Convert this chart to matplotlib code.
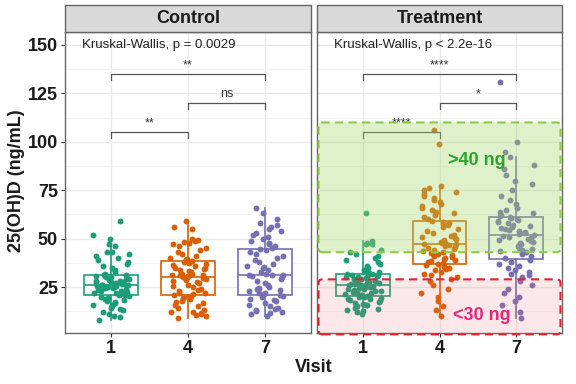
import matplotlib
matplotlib.use("Agg")
import matplotlib.pyplot as plt
import numpy as np
from matplotlib.patches import Rectangle, FancyBboxPatch

plt.rcParams["font.family"] = ["Liberation Sans", "DejaVu Sans"]

# ---------------- data ----------------
visits = ["1", "4", "7"]
groups = ["Control", "Treatment"]
colors = ["#1B9E77", "#D95F02", "#7570B3"]

control_v1 = [8, 9.5, 10, 11, 12, 13, 13.5, 14, 15, 15.5, 16, 17, 17.5, 18, 18.5, 19, 19.5, 20,
              20.5, 21, 21, 21.5, 22, 22, 22.5, 23, 23, 23.5, 24, 24, 24.5, 24.5, 25, 25, 25,
              25.5, 25.5, 26, 26, 26, 26.5, 26.5, 27, 27, 27.5, 27.5, 28, 28, 28.5, 29, 29,
              29.5, 30, 30, 30.5, 31, 31.5, 32, 33, 34, 35, 36, 37, 38, 39, 40, 41, 42, 43, 43,
              46, 47, 50, 52, 59]
control_v4 = [9, 10, 10.5, 11, 11.5, 12, 12, 13, 14, 15, 16, 17, 17.5, 18, 19, 19.5, 20, 20.5,
              21, 21.5, 22, 22, 23, 23.5, 24, 25, 25.5, 26, 27, 27.5, 28, 28.5, 29, 29.5, 30,
              30, 30.5, 31, 31, 31.5, 32, 32, 33, 33.5, 34, 34.5, 35, 35, 36, 36.5, 37, 37.5,
              38, 38.5, 39, 39.5, 40, 41, 42, 43, 44, 45, 46, 47, 48, 48.5, 49, 49.5, 50, 55,
              56, 59]
control_v7 = [10, 11, 11.5, 12, 12.5, 13, 13.5, 14, 15, 16, 17, 18, 18.5, 19, 20, 20.5, 21, 21.5,
              22, 22, 23, 23.5, 24, 24.5, 25, 26, 27, 28, 29, 30, 30.5, 31, 31, 31.5, 32, 33,
              34, 35, 35.5, 36, 37, 38, 39, 40, 41, 42, 43, 44, 44.5, 45, 46, 47, 48, 49, 50,
              51, 52, 53, 54, 55, 56, 57, 58, 60, 63, 66]
treat_v1 = [11, 12, 12.5, 13, 13.5, 14, 15, 15.5, 16, 16.5, 17, 17.5, 18, 18.5, 19, 19, 19.5,
            20, 20, 20.5, 21, 21, 21.5, 22, 22, 22.5, 23, 23, 23.5, 24, 24, 24.5, 25, 25, 25.5,
            25.5, 26, 26, 26, 26.5, 26.5, 27, 27, 27.5, 28, 28, 28.5, 29, 29, 29.5, 30, 30,
            30.5, 31, 31, 31.5, 32, 32, 32.5, 33, 33.5, 34, 35, 36, 37, 38, 39, 40, 41, 42,
            43, 44, 47, 47.5, 48, 49, 63]
treat_v4 = [10, 13, 15, 18, 20, 22, 24, 26, 28, 29, 30, 31, 32, 33, 34, 34.5, 35, 35.5, 36,
            36.5, 37, 37.5, 38, 38.5, 39, 39.5, 40, 40.5, 41, 41.5, 42, 42.5, 43, 43.5, 44,
            44.5, 45, 45.5, 46, 46.5, 47, 47, 47.5, 48, 48.5, 49, 49.5, 50, 50.5, 51, 51.5, 52,
            53, 54, 55, 56, 57, 57.5, 58, 58.5, 59, 60, 61, 62, 63, 64, 65, 66, 67, 68, 69, 70,
            71, 72, 73, 74, 75, 76, 77, 99, 106]
treat_v7 = [9, 12, 16, 18, 20, 22, 24, 26, 28, 30, 31, 32, 33, 34, 35, 36, 37, 38, 39, 40, 41,
            42, 43, 43.5, 44, 44.5, 45, 46, 47, 48, 48.5, 49, 49.5, 50, 50.5, 51, 51.5, 52,
            52.5, 53, 53, 53.5, 54, 54.5, 55, 55.5, 56, 56.5, 57, 58, 58.5, 59, 59.5, 60, 60.5,
            61, 61.5, 62, 63, 64, 65, 66, 68, 70, 72, 75, 78, 80, 83, 86, 88, 92, 95, 100, 131]

data = {"Control": [control_v1, control_v4, control_v7],
        "Treatment": [treat_v1, treat_v4, treat_v7]}

kw_text = {"Control": "Kruskal-Wallis, p = 0.0029",
           "Treatment": "Kruskal-Wallis, p < 2.2e-16"}
# (from, to, y, label)
brackets = {"Control": [(1, 3, 135, "**"), (2, 3, 120, "ns"), (1, 2, 105, "**")],
            "Treatment": [(1, 3, 135, "****"), (2, 3, 120, "*"), (1, 2, 105, "****")]}

yticks = [25, 50, 75, 100, 125, 150]

# ---------------- figure ----------------
fig = plt.figure(figsize=(5.76, 3.84), dpi=100)
W, H = 576, 384
bottom = 51 / H
height = (333 - 32) / H
axes_pos = [(65 / W, (311 - 65) / W), (317 / W, (562 - 317) / W)]
strip_h = 27 / H

grid_c = "#EBEBEB"


def jitter(n, k):
    # deterministic scrambled jitter offsets (position only)
    idx = np.arange(n) + 17 * k
    frac = (np.sin(idx * 12.9898 + 78.233) * 43758.5453) % 1.0
    return (frac - 0.5) * 0.48


for gi, (g, (l, w)) in enumerate(zip(groups, axes_pos)):
    ax = fig.add_axes([l, bottom, w, height])
    ax.set_xlim(0.4, 3.6)
    ax.set_ylim(1.3, 156.7)
    ax.set_yticks(yticks)
    ax.set_yticks([12.5, 37.5, 62.5, 87.5, 112.5, 137.5], minor=True)
    ax.set_xticks([1, 2, 3])
    ax.set_xticklabels(visits)
    ax.grid(True, which="major", color=grid_c, lw=1.0, zorder=0)
    ax.grid(True, which="minor", axis="y", color="#F4F4F4", lw=0.6, zorder=0)
    ax.set_axisbelow(True)
    for s in ax.spines.values():
        s.set_color("#666666")
        s.set_linewidth(1.0)
    ax.tick_params(axis="both", which="major", length=3, color="#333333",
                   labelsize=13, pad=2)
    ax.tick_params(axis="y", which="minor", length=0)
    for lab in ax.get_xticklabels() + ax.get_yticklabels():
        lab.set_fontweight("bold")
        lab.set_color("#1A1A1A")
    if gi == 1:
        ax.tick_params(axis="y", labelleft=False, left=False)

    vals = data[g]
    for i, v in enumerate(vals):
        v = np.asarray(v, float)
        pos = i + 1
        bp = ax.boxplot([v], positions=[pos], widths=0.7, showfliers=False,
                        patch_artist=True, manage_ticks=False,
                        boxprops=dict(facecolor="white", edgecolor=colors[i], lw=1.2),
                        medianprops=dict(color=colors[i], lw=1.2),
                        whiskerprops=dict(color=colors[i], lw=1.2),
                        capprops=dict(lw=0))
        for art in bp["boxes"] + bp["medians"] + bp["whiskers"]:
            art.set_zorder(2)
        offs = jitter(len(v), i + 3 * gi)
        ax.scatter(pos + offs, v, s=18, color=colors[i], zorder=3, lw=0)

    ax.text(0.62, 150, kw_text[g], fontsize=9.5, ha="left", va="center", color="#222222")
    for (a, b, y, lab) in brackets[g]:
        ax.plot([a, a, b, b], [y - 3, y, y, y - 3], color="#555555", lw=0.9, zorder=4)
        ax.text((a + b) / 2, y + 1.5, lab, fontsize=9, ha="center", va="bottom",
                color="#333333", zorder=4)

    # strip
    fig.patches.append(Rectangle((l, bottom + height), w, strip_h, transform=fig.transFigure,
                                 facecolor="#D9D9D9", edgecolor="#666666", lw=1.0))
    fig.text(l + w / 2, bottom + height + strip_h / 2, g, ha="center", va="center",
             fontsize=13, fontweight="bold", color="#1A1A1A")

    if g == "Treatment":
        asp = (1 / 1.94) / (1 / 76.6)
        green = FancyBboxPatch((0.42, 43), 3.16, 67,
                               boxstyle="round,pad=0,rounding_size=0.05",
                               mutation_aspect=asp, facecolor=(0.65, 0.85, 0.42, 0.35),
                               edgecolor="#8CCB45", lw=1.5, ls=(0, (4, 2.5)), zorder=5)
        ax.add_patch(green)
        red = FancyBboxPatch((0.42, 0.6), 3.16, 28.4,
                             boxstyle="round,pad=0,rounding_size=0.05",
                             mutation_aspect=asp, facecolor=(0.94, 0.38, 0.44, 0.15),
                             edgecolor="#E8202A", lw=1.5, ls=(0, (4, 2.5)), zorder=5,
                             clip_on=False)
        ax.add_patch(red)
        ax.text(2.11, 90.5, ">40 ng", color="#2AA52A", fontsize=13, fontweight="bold",
                ha="left", va="center", zorder=6)
        ax.text(2.18, 10.5, "<30 ng", color="#E8287A", fontsize=13, fontweight="bold",
                ha="left", va="center", zorder=6)

fig.text(313.5 / W, 1 - 367 / H, "Visit", ha="center", va="center", fontsize=13,
         fontweight="bold", color="#1A1A1A")
fig.text(17 / W, 1 - 181 / H, "25(OH)D (ng/mL)", rotation=90, ha="center",
         va="center", fontsize=13, fontweight="bold", color="#1A1A1A")

fig.savefig("out.png", dpi=100)
